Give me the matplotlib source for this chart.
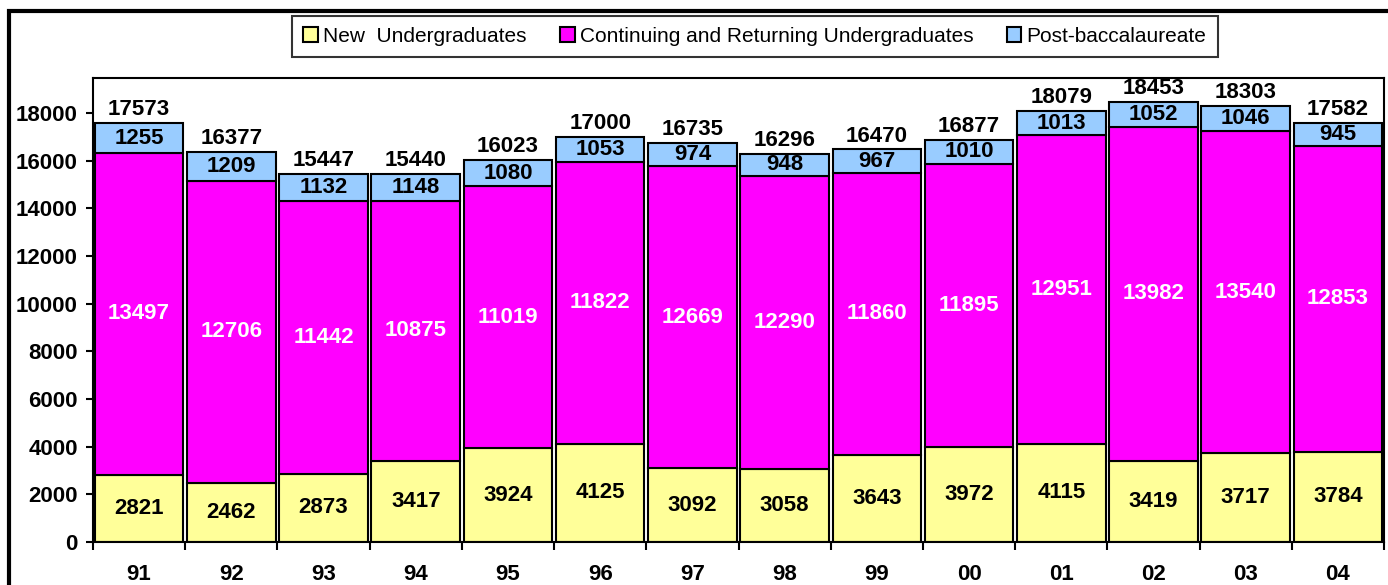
import numpy as np
import matplotlib.pyplot as plt
from matplotlib.patches import Rectangle

plt.rcParams['font.family'] = ['Liberation Sans', 'DejaVu Sans']

years = ['91', '92', '93', '94', '95', '96', '97', '98', '99', '00', '01', '02', '03', '04']
new_ug = [2821, 2462, 2873, 3417, 3924, 4125, 3092, 3058, 3643, 3972, 4115, 3419, 3717, 3784]
cont_ug = [13497, 12706, 11442, 10875, 11019, 11822, 12669, 12290, 11860, 11895, 12951, 13982, 13540, 12853]
post_bac = [1255, 1209, 1132, 1148, 1080, 1053, 974, 948, 967, 1010, 1013, 1052, 1046, 945]
totals = [17573, 16377, 15447, 15440, 16023, 17000, 16735, 16296, 16470, 16877, 18079, 18453, 18303, 17582]


def main():
    x = np.arange(len(years))
    new_a = np.array(new_ug)
    cont_a = np.array(cont_ug)
    post_a = np.array(post_bac)

    fig = plt.figure(figsize=(13.88, 5.85), dpi=100)
    ax = fig.add_axes([93/1388, 1 - 542/585, (1384 - 93)/1388, (542 - 78)/585])

    w = 0.96
    ax.bar(x, new_a, w, color='#FFFF99', edgecolor='black', linewidth=1.5,
           label='New  Undergraduates')
    ax.bar(x, cont_a, w, bottom=new_a, color='#FF00FF', edgecolor='black', linewidth=1.5,
           label='Continuing and Returning Undergraduates')
    ax.bar(x, post_a, w, bottom=new_a + cont_a, color='#99CCFF', edgecolor='black', linewidth=1.5,
           label='Post-baccalaureate')

    fs = 16
    for i in range(len(years)):
        ax.text(x[i], new_a[i] / 2, str(new_ug[i]), ha='center', va='center',
                fontsize=fs, fontweight='bold', color='black')
        ax.text(x[i], new_a[i] + cont_a[i] / 2, str(cont_ug[i]), ha='center', va='center',
                fontsize=fs, fontweight='bold', color='white')
        ax.text(x[i], new_a[i] + cont_a[i] + post_a[i] / 2, str(post_bac[i]), ha='center',
                va='center', fontsize=fs, fontweight='bold', color='black')
        ax.text(x[i], totals[i] + 560, str(totals[i]), ha='center', va='center',
                fontsize=fs, fontweight='bold', color='black')

    ax.set_xlim(-0.5, len(years) - 0.5)
    ax.set_ylim(0, 19470)
    ax.set_yticks(np.arange(0, 18001, 2000))
    ax.tick_params(axis='y', labelsize=fs, length=5, width=1.5, pad=6)
    for t in ax.get_yticklabels():
        t.set_fontweight('bold')

    # ticks between categories, labels at centres
    ax.set_xticks(np.arange(-0.5, len(years), 1.0))
    ax.set_xticklabels([])
    ax.tick_params(axis='x', which='major', length=6, width=1.5)
    ax.set_xticks(x, minor=True)
    ax.set_xticklabels(years, minor=True, fontsize=fs, fontweight='bold')
    ax.tick_params(axis='x', which='minor', length=0, pad=16)

    for s in ax.spines.values():
        s.set_linewidth(1.5)

    leg = fig.legend(loc='center', bbox_to_anchor=(755/1388, 1 - 36.5/585), ncol=3,
                     fontsize=15, frameon=True, fancybox=False, edgecolor='black',
                     handlelength=0.7, handleheight=0.7, handletextpad=0.25,
                     columnspacing=1.6, borderpad=0.55)
    leg.get_frame().set_linewidth(1.5)

    # outer chart frame
    fig.patches.append(Rectangle((9/1388, -0.1), 1.2, 1.1 - 11/585,
                                 transform=fig.transFigure, fill=False,
                                 edgecolor='black', linewidth=3))

    fig.savefig('out.png', dpi=100)


if __name__ == "__main__":
    main()
